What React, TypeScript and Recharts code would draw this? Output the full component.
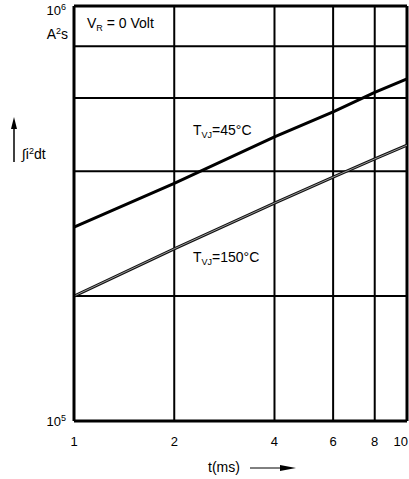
import React from "react";
import { LineChart, Line, XAxis, YAxis, CartesianGrid, ReferenceLine } from "recharts";

// t in ms (log axis)
const times = [1, 2, 4, 6, 8, 10];
// ∫i²dt in A²s
const i2t45 = [293000, 374000, 484000, 556000, 619000, 667000];
const i2t150 = [200000, 260000, 335000, 387000, 428000, 462000];

const xTicks = [1, 2, 4, 6, 8, 10];
const yTicks = [100000, 200000, 400000, 600000, 800000, 1000000];

const data = times.map((t, i) => ({ t, tj45: i2t45[i], tj150: i2t150[i] }));

const FONT = "'Liberation Sans', Arial, sans-serif";

const XTick = ({ x, y, payload }: any) => {
  // last label sits on the right edge, keep it inside the page
  const last = payload.value === 10;
  return (
    <text x={last ? 408 : x} y={y + 17} textAnchor={last ? "end" : "middle"} fontSize={13} fontFamily={FONT} fill="#000">
      {payload.value}
    </text>
  );
};

const YTick = ({ y, payload }: any) => {
  if (payload.value !== 100000 && payload.value !== 1000000) return <g />;
  const exp = payload.value === 100000 ? "5" : "6";
  const base = payload.value === 100000 ? y + 4.5 : y + 9;
  return (
    <text x={66} y={base} textAnchor="end" fontSize={13} fontFamily={FONT} fill="#000">
      10<tspan fontSize={9} dy={-5}>{exp}</tspan>
    </text>
  );
};

export default function App() {
  return (
    <div style={{ position: "absolute", left: 0, top: 0, width: 409, height: 479, background: "#fff" }}>
      <LineChart width={409} height={479} data={data} margin={{ top: 6, right: 2, bottom: 0, left: 0 }}>
        <CartesianGrid stroke="#000" strokeWidth={2} horizontalValues={yTicks} verticalValues={xTicks} />
        <XAxis dataKey="t" type="number" scale="log" domain={[1, 10]} ticks={xTicks} height={58}
          axisLine={{ stroke: "#000", strokeWidth: 3 }} tickLine={false} tick={<XTick />} allowDataOverflow interval={0} />
        <YAxis type="number" scale="log" domain={[100000, 1000000]} ticks={yTicks} width={74}
          axisLine={{ stroke: "#000", strokeWidth: 3 }} tickLine={false} tick={<YTick />} allowDataOverflow interval={0} />
        <ReferenceLine y={1000000} stroke="#000" strokeWidth={3} />
        <ReferenceLine x={10} stroke="#000" strokeWidth={3} />
        <Line dataKey="tj45" stroke="#000" strokeWidth={3} dot={false} isAnimationActive={false} />
        <Line dataKey="tj150" stroke="#111" strokeWidth={3} dot={false} isAnimationActive={false} />
        <Line dataKey="tj150" stroke="#999" strokeWidth={1} dot={false} isAnimationActive={false} />
      </LineChart>
      <svg width={409} height={479} style={{ position: "absolute", left: 0, top: 0, pointerEvents: "none" }}
        fontFamily={FONT} fill="#000">
        <text x={68} y={39} textAnchor="end" fontSize={14}>
          A<tspan fontSize={9} dy={-5}>2</tspan><tspan dy={5}>s</tspan>
        </text>
        <text x={87} y={28} fontSize={14}>
          V<tspan fontSize={9} dy={3}>R</tspan><tspan dy={-3}> = 0 Volt</tspan>
        </text>
        <line x1={14} y1={128} x2={14} y2={162} stroke="#000" strokeWidth={1.5} />
        <polygon points="14,117 11,129 17,129" fill="#000" />
        <text x={22} y={159} fontSize={14}>
          ∫i<tspan fontSize={9} dy={-5}>2</tspan><tspan dy={5}>dt</tspan>
        </text>
        <text x={193} y={135} fontSize={14}>
          T<tspan fontSize={9} dy={3}>VJ</tspan><tspan dy={-3}>=45°C</tspan>
        </text>
        <text x={193} y={262} fontSize={14}>
          T<tspan fontSize={9} dy={3}>VJ</tspan><tspan dy={-3}>=150°C</tspan>
        </text>
        <text x={208} y={472} fontSize={14}>t(ms)</text>
        <line x1={250} y1={468} x2={282} y2={468} stroke="#000" strokeWidth={1} />
        <polygon points="280,465 296,468 280,471" fill="#000" />
      </svg>
    </div>
  );
}
